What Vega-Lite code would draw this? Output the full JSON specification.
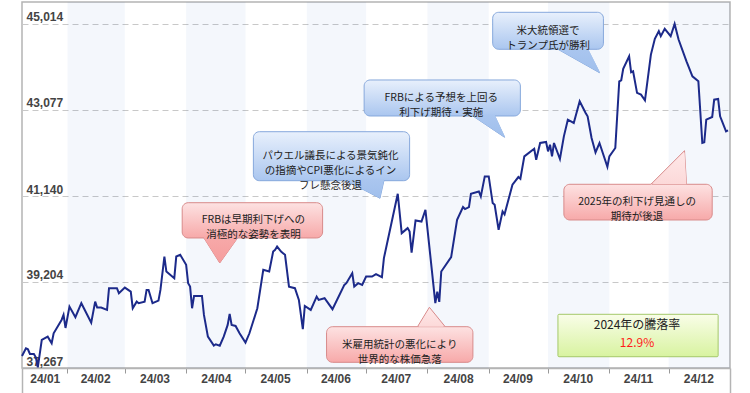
{
  "$schema": "https://vega.github.io/schema/vega-lite/v6.json",
  "width": 708,
  "height": 366,
  "autosize": {"type": "none"},
  "padding": {"left": 22, "top": 2, "right": 20, "bottom": 25},
  "background": "white",
  "view": {"stroke": "#b4b4b4", "strokeWidth": 1.5},
  "config": {"font": "Liberation Sans"},
  "resolve": {"axis": {"x": "independent"}},
  "datasets": {
    "bands": [
      {"start": "2024-02-01", "end": "2024-03-01"},
      {"start": "2024-04-01", "end": "2024-05-01"},
      {"start": "2024-06-01", "end": "2024-07-01"},
      {"start": "2024-08-01", "end": "2024-09-01"},
      {"start": "2024-10-01", "end": "2024-11-01"},
      {"start": "2024-12-01", "end": "2025-01-01"}
    ],
    "prices": [
      {"d": "2024-01-09", "v": 37538}, {"d": "2024-01-11", "v": 37711}, {"d": "2024-01-12", "v": 37689},
      {"d": "2024-01-13", "v": 37583}, {"d": "2024-01-15", "v": 37583}, {"d": "2024-01-16", "v": 37508},
      {"d": "2024-01-17", "v": 37280}, {"d": "2024-01-19", "v": 37898}, {"d": "2024-01-22", "v": 37973},
      {"d": "2024-01-24", "v": 37824}, {"d": "2024-01-25", "v": 38049}, {"d": "2024-01-29", "v": 38349},
      {"d": "2024-01-30", "v": 38462}, {"d": "2024-01-31", "v": 38169}, {"d": "2024-02-02", "v": 38649},
      {"d": "2024-02-05", "v": 38410}, {"d": "2024-02-08", "v": 38726}, {"d": "2024-02-13", "v": 38288},
      {"d": "2024-02-15", "v": 38762}, {"d": "2024-02-16", "v": 38627}, {"d": "2024-02-18", "v": 38627},
      {"d": "2024-02-21", "v": 38575}, {"d": "2024-02-22", "v": 39064}, {"d": "2024-02-26", "v": 39064},
      {"d": "2024-02-27", "v": 38951}, {"d": "2024-03-01", "v": 39078}, {"d": "2024-03-04", "v": 38988},
      {"d": "2024-03-05", "v": 38613}, {"d": "2024-03-07", "v": 38762}, {"d": "2024-03-08", "v": 38726},
      {"d": "2024-03-11", "v": 38762}, {"d": "2024-03-12", "v": 39026}, {"d": "2024-03-13", "v": 39026},
      {"d": "2024-03-15", "v": 38726}, {"d": "2024-03-18", "v": 38785}, {"d": "2024-03-19", "v": 39026},
      {"d": "2024-03-21", "v": 39777}, {"d": "2024-03-22", "v": 39439}, {"d": "2024-03-26", "v": 39290},
      {"d": "2024-03-27", "v": 39777}, {"d": "2024-03-29", "v": 39815}, {"d": "2024-04-01", "v": 39590},
      {"d": "2024-04-02", "v": 39177}, {"d": "2024-04-03", "v": 39100}, {"d": "2024-04-04", "v": 38613},
      {"d": "2024-04-05", "v": 38891}, {"d": "2024-04-09", "v": 38891}, {"d": "2024-04-10", "v": 38462},
      {"d": "2024-04-12", "v": 37973}, {"d": "2024-04-15", "v": 37770}, {"d": "2024-04-16", "v": 37801},
      {"d": "2024-04-18", "v": 37770}, {"d": "2024-04-20", "v": 37973}, {"d": "2024-04-22", "v": 38237},
      {"d": "2024-04-23", "v": 38485}, {"d": "2024-04-24", "v": 38237}, {"d": "2024-04-26", "v": 38214},
      {"d": "2024-04-28", "v": 38049}, {"d": "2024-05-01", "v": 37838}, {"d": "2024-05-03", "v": 38049},
      {"d": "2024-05-07", "v": 38613}, {"d": "2024-05-10", "v": 39477}, {"d": "2024-05-13", "v": 39439},
      {"d": "2024-05-15", "v": 39890}, {"d": "2024-05-16", "v": 39928}, {"d": "2024-05-17", "v": 40002},
      {"d": "2024-05-19", "v": 39890}, {"d": "2024-05-20", "v": 39853}, {"d": "2024-05-21", "v": 39815},
      {"d": "2024-05-23", "v": 39100}, {"d": "2024-05-26", "v": 39064}, {"d": "2024-05-28", "v": 38800},
      {"d": "2024-05-30", "v": 38140}, {"d": "2024-05-31", "v": 38665}, {"d": "2024-06-03", "v": 38575},
      {"d": "2024-06-06", "v": 38875}, {"d": "2024-06-07", "v": 38800}, {"d": "2024-06-10", "v": 38839},
      {"d": "2024-06-14", "v": 38591}, {"d": "2024-06-20", "v": 39139}, {"d": "2024-06-21", "v": 39177},
      {"d": "2024-06-24", "v": 39402}, {"d": "2024-06-25", "v": 39100}, {"d": "2024-06-27", "v": 39177},
      {"d": "2024-06-29", "v": 39139}, {"d": "2024-07-01", "v": 39326}, {"d": "2024-07-04", "v": 39326},
      {"d": "2024-07-06", "v": 39380}, {"d": "2024-07-09", "v": 39312}, {"d": "2024-07-10", "v": 39741},
      {"d": "2024-07-17", "v": 41191}, {"d": "2024-07-19", "v": 40304}, {"d": "2024-07-22", "v": 40417},
      {"d": "2024-07-23", "v": 40340}, {"d": "2024-07-24", "v": 39867}, {"d": "2024-07-26", "v": 40589},
      {"d": "2024-07-29", "v": 40566}, {"d": "2024-07-31", "v": 40830}, {"d": "2024-08-05", "v": 38729},
      {"d": "2024-08-06", "v": 38988}, {"d": "2024-08-07", "v": 38755}, {"d": "2024-08-08", "v": 39439},
      {"d": "2024-08-13", "v": 39763}, {"d": "2024-08-16", "v": 40604}, {"d": "2024-08-19", "v": 40891},
      {"d": "2024-08-20", "v": 40846}, {"d": "2024-08-22", "v": 40891}, {"d": "2024-08-23", "v": 41191},
      {"d": "2024-08-27", "v": 41243}, {"d": "2024-08-28", "v": 41130}, {"d": "2024-08-30", "v": 41581},
      {"d": "2024-09-01", "v": 41581}, {"d": "2024-09-03", "v": 40981}, {"d": "2024-09-04", "v": 40943},
      {"d": "2024-09-06", "v": 40379}, {"d": "2024-09-08", "v": 40792}, {"d": "2024-09-09", "v": 40727},
      {"d": "2024-09-13", "v": 41394}, {"d": "2024-09-16", "v": 41567}, {"d": "2024-09-17", "v": 41529},
      {"d": "2024-09-19", "v": 42032}, {"d": "2024-09-24", "v": 42205}, {"d": "2024-09-25", "v": 41957},
      {"d": "2024-09-27", "v": 42334}, {"d": "2024-09-30", "v": 42357}, {"d": "2024-10-01", "v": 42145},
      {"d": "2024-10-02", "v": 42296}, {"d": "2024-10-03", "v": 42032}, {"d": "2024-10-04", "v": 42334},
      {"d": "2024-10-07", "v": 41973}, {"d": "2024-10-09", "v": 42483}, {"d": "2024-10-11", "v": 42859},
      {"d": "2024-10-14", "v": 42785}, {"d": "2024-10-17", "v": 43272}, {"d": "2024-10-20", "v": 43010},
      {"d": "2024-10-21", "v": 42934}, {"d": "2024-10-23", "v": 42447}, {"d": "2024-10-25", "v": 42122},
      {"d": "2024-10-27", "v": 42334}, {"d": "2024-10-31", "v": 41800}, {"d": "2024-11-01", "v": 42032},
      {"d": "2024-11-04", "v": 42221}, {"d": "2024-11-06", "v": 43723}, {"d": "2024-11-07", "v": 43746},
      {"d": "2024-11-08", "v": 44003}, {"d": "2024-11-11", "v": 44287}, {"d": "2024-11-12", "v": 43926},
      {"d": "2024-11-13", "v": 43949}, {"d": "2024-11-15", "v": 43462}, {"d": "2024-11-17", "v": 43423},
      {"d": "2024-11-19", "v": 43295}, {"d": "2024-11-22", "v": 44325}, {"d": "2024-11-24", "v": 44679},
      {"d": "2024-11-26", "v": 44851}, {"d": "2024-11-27", "v": 44738}, {"d": "2024-11-29", "v": 44905},
      {"d": "2024-12-02", "v": 44738}, {"d": "2024-12-04", "v": 45014}, {"d": "2024-12-06", "v": 44663},
      {"d": "2024-12-10", "v": 44174}, {"d": "2024-12-13", "v": 43836}, {"d": "2024-12-16", "v": 43723},
      {"d": "2024-12-18", "v": 42334}, {"d": "2024-12-19", "v": 42348}, {"d": "2024-12-20", "v": 42859},
      {"d": "2024-12-23", "v": 42920}, {"d": "2024-12-24", "v": 43310}, {"d": "2024-12-26", "v": 43326},
      {"d": "2024-12-27", "v": 42934}, {"d": "2024-12-30", "v": 42595}, {"d": "2024-12-31", "v": 42618}
    ],
    "boxes": [
      {"cid": 1, "col": "red", "x1": "2024-03-30", "x2": "2024-06-09", "v1": 40989, "v2": 40195},
      {"cid": 2, "col": "blue", "x1": "2024-05-05", "x2": "2024-07-23", "v1": 42588, "v2": 41485},
      {"cid": 3, "col": "blue", "x1": "2024-06-30", "x2": "2024-09-17", "v1": 43753, "v2": 42942},
      {"cid": 4, "col": "blue", "x1": "2024-09-03", "x2": "2024-10-29", "v1": 45277, "v2": 44444},
      {"cid": 5, "col": "red", "x1": "2024-10-09", "x2": "2024-12-23", "v1": 41404, "v2": 40600},
      {"cid": 6, "col": "red", "x1": "2024-06-11", "x2": "2024-08-24", "v1": 38197, "v2": 37395},
      {"cid": 7, "col": "green", "x1": "2024-10-06", "x2": "2024-12-26", "v1": 38476, "v2": 37521}
    ],
    "pointers": [
      {"cid": 1, "g": "rd", "x": "2024-04-10", "top": 40195, "bot": 40195},
      {"cid": 1, "g": "rd", "x": "2024-04-18", "top": 40195, "bot": 39632},
      {"cid": 1, "g": "rd", "x": "2024-04-27", "top": 40195, "bot": 40195},
      {"cid": 2, "g": "bd", "x": "2024-06-21", "top": 41485, "bot": 41485},
      {"cid": 2, "g": "bd", "x": "2024-07-08", "top": 41485, "bot": 41089},
      {"cid": 2, "g": "bd", "x": "2024-07-10", "top": 41485, "bot": 41485},
      {"cid": 3, "g": "bd", "x": "2024-08-24", "top": 42942, "bot": 42942},
      {"cid": 3, "g": "bd", "x": "2024-09-04", "top": 42942, "bot": 42612},
      {"cid": 3, "g": "bd", "x": "2024-09-09", "top": 42462, "bot": 42462},
      {"cid": 4, "g": "bd", "x": "2024-10-06", "top": 44444, "bot": 44444},
      {"cid": 4, "g": "bd", "x": "2024-10-21", "top": 44444, "bot": 44068},
      {"cid": 4, "g": "bd", "x": "2024-10-27", "top": 43917, "bot": 43917},
      {"cid": 5, "g": "ru", "x": "2024-11-22", "top": 41404, "bot": 41404},
      {"cid": 5, "g": "ru", "x": "2024-12-09", "top": 42160, "bot": 41404},
      {"cid": 5, "g": "ru", "x": "2024-12-10", "top": 41404, "bot": 41404},
      {"cid": 6, "g": "ru", "x": "2024-07-27", "top": 38197, "bot": 38197},
      {"cid": 6, "g": "ru", "x": "2024-08-02", "top": 38634, "bot": 38197},
      {"cid": 6, "g": "ru", "x": "2024-08-10", "top": 38197, "bot": 38197}
    ],
    "notes": [
      {"cid": 1, "x": "2024-05-05", "v": 40592, "txt": "FRBは早期利下げへの\n消極的な姿勢を表明"},
      {"cid": 2, "x": "2024-06-13", "v": 42037, "txt": "パウエル議長による景気鈍化\nの指摘やCPI悪化によるイン\nフレ懸念後退"},
      {"cid": 3, "x": "2024-08-08", "v": 43347, "txt": "FRBによる予想を上回る\n利下げ期待・実施"},
      {"cid": 4, "x": "2024-10-01", "v": 44861, "txt": "米大統領選で\nトランプ氏が勝利"},
      {"cid": 5, "x": "2024-11-15", "v": 41002, "txt": "2025年の利下げ見通しの\n期待が後退"},
      {"cid": 6, "x": "2024-07-18", "v": 37796, "txt": "米雇用統計の悪化により\n世界的な株価急落"}
    ],
    "perf": [
      {"kind": "title", "x": "2024-11-15", "v": 38230, "txt": "2024年の騰落率"},
      {"kind": "pct", "x": "2024-11-15", "v": 37820, "txt": "12.9%"}
    ]
  },
  "layer": [
    {
      "data": {"name": "bands"},
      "mark": {"type": "rect", "fill": "#2669cd", "opacity": 0.05},
      "encoding": {
        "x": {
          "field": "start", "type": "temporal",
          "scale": {"type": "utc", "domain": [{"year": 2024, "month": 1, "date": 9, "utc": true}, {"year": 2025, "month": 1, "date": 1, "utc": true}]},
          "axis": {
            "orient": "bottom", "title": null, "labels": false, "grid": false,
            "ticks": true, "tickSize": 5, "tickColor": "#999999", "tickWidth": 1,
            "domain": true, "domainColor": "#b4b4b4", "domainWidth": 1.5,
            "values": [
              {"year": 2024, "month": 2, "date": 1, "utc": true}, {"year": 2024, "month": 3, "date": 1, "utc": true},
              {"year": 2024, "month": 4, "date": 1, "utc": true}, {"year": 2024, "month": 5, "date": 1, "utc": true},
              {"year": 2024, "month": 6, "date": 1, "utc": true}, {"year": 2024, "month": 7, "date": 1, "utc": true},
              {"year": 2024, "month": 8, "date": 1, "utc": true}, {"year": 2024, "month": 9, "date": 1, "utc": true},
              {"year": 2024, "month": 10, "date": 1, "utc": true}, {"year": 2024, "month": 11, "date": 1, "utc": true},
              {"year": 2024, "month": 12, "date": 1, "utc": true}
            ]
          }
        },
        "x2": {"field": "end"}
      }
    },
    {
      "data": {"name": "prices"},
      "mark": {"type": "line", "color": "#1c2a8a", "strokeWidth": 2},
      "encoding": {
        "x": {
          "field": "d", "type": "temporal",
          "axis": {
            "orient": "bottom", "title": null, "ticks": false, "domain": false, "grid": false,
            "labelExpr": "utcFormat(datum.value, '%y/%m')", "labelPadding": 5,
            "labelFont": "Liberation Sans", "labelFontSize": 12, "labelFontWeight": "bold", "labelColor": "#444444",
            "labelOverlap": false, "labelFlush": false, "labelBound": false,
            "values": [
              {"year": 2024, "month": 1, "date": 20, "hours": 12, "utc": true}, {"year": 2024, "month": 2, "date": 15, "utc": true},
              {"year": 2024, "month": 3, "date": 16, "utc": true}, {"year": 2024, "month": 4, "date": 16, "utc": true},
              {"year": 2024, "month": 5, "date": 16, "utc": true}, {"year": 2024, "month": 6, "date": 15, "hours": 12, "utc": true},
              {"year": 2024, "month": 7, "date": 16, "utc": true}, {"year": 2024, "month": 8, "date": 16, "hours": 12, "utc": true},
              {"year": 2024, "month": 9, "date": 15, "hours": 12, "utc": true}, {"year": 2024, "month": 10, "date": 16, "utc": true},
              {"year": 2024, "month": 11, "date": 15, "hours": 12, "utc": true}, {"year": 2024, "month": 12, "date": 16, "utc": true}
            ]
          }
        },
        "y": {
          "field": "v", "type": "quantitative",
          "scale": {"domain": [37267, 45509], "nice": false, "zero": false},
          "axis": {
            "orient": "left", "title": null, "values": [37267, 39204, 41140, 43077, 45014], "format": ",d",
            "domain": false, "ticks": false, "grid": true, "gridColor": "#c8c8c8", "gridDash": [6, 4], "gridWidth": 1,
            "labelAlign": "left", "labelBaseline": "alphabetic", "labelPadding": -4, "labelOffset": -3,
            "labelFont": "Liberation Sans", "labelFontSize": 12, "labelFontWeight": "bold", "labelColor": "#444444",
            "labelOverlap": false, "labelFlush": false, "labelBound": false
          }
        }
      }
    },
    {
      "data": {"name": "pointers"},
      "transform": [{"filter": "datum.g == 'bd'"}],
      "mark": {"type": "area", "stroke": "#86a8dc", "strokeWidth": 1,
        "fill": {"gradient": "linear", "x1": 0, "y1": 0, "x2": 0, "y2": 1, "stops": [{"offset": 0, "color": "#aac6ef"}, {"offset": 1, "color": "#a0bfec"}]}},
      "encoding": {
        "x": {"field": "x", "type": "temporal", "axis": null},
        "y": {"field": "top", "type": "quantitative"},
        "y2": {"field": "bot"},
        "detail": {"field": "cid"}
      }
    },
    {
      "data": {"name": "pointers"},
      "transform": [{"filter": "datum.g == 'rd'"}],
      "mark": {"type": "area", "stroke": "#d88a8a", "strokeWidth": 1,
        "fill": {"gradient": "linear", "x1": 0, "y1": 0, "x2": 0, "y2": 1, "stops": [{"offset": 0, "color": "#f7a9a9"}, {"offset": 1, "color": "#f59d9d"}]}},
      "encoding": {
        "x": {"field": "x", "type": "temporal", "axis": null},
        "y": {"field": "top", "type": "quantitative"},
        "y2": {"field": "bot"},
        "detail": {"field": "cid"}
      }
    },
    {
      "data": {"name": "pointers"},
      "transform": [{"filter": "datum.g == 'ru'"}],
      "mark": {"type": "area", "stroke": "#d88a8a", "strokeWidth": 1,
        "fill": {"gradient": "linear", "x1": 0, "y1": 0, "x2": 0, "y2": 1, "stops": [{"offset": 0, "color": "#fee8e8"}, {"offset": 1, "color": "#fcd8d8"}]}},
      "encoding": {
        "x": {"field": "x", "type": "temporal", "axis": null},
        "y": {"field": "top", "type": "quantitative"},
        "y2": {"field": "bot"},
        "detail": {"field": "cid"}
      }
    },
    {
      "data": {"name": "boxes"},
      "transform": [{"filter": "datum.col == 'blue'"}],
      "mark": {"type": "rect", "cornerRadius": 6, "stroke": "#86a8dc", "strokeWidth": 1,
        "fill": {"gradient": "linear", "x1": 0, "y1": 0, "x2": 0, "y2": 1, "stops": [{"offset": 0, "color": "#e8f0fc"}, {"offset": 1, "color": "#aac6ef"}]}},
      "encoding": {
        "x": {"field": "x1", "type": "temporal", "axis": null},
        "x2": {"field": "x2"},
        "y": {"field": "v1", "type": "quantitative"},
        "y2": {"field": "v2"}
      }
    },
    {
      "data": {"name": "boxes"},
      "transform": [{"filter": "datum.col == 'red'"}],
      "mark": {"type": "rect", "cornerRadius": 6, "stroke": "#d88a8a", "strokeWidth": 1,
        "fill": {"gradient": "linear", "x1": 0, "y1": 0, "x2": 0, "y2": 1, "stops": [{"offset": 0, "color": "#fde2e2"}, {"offset": 1, "color": "#f7a9a9"}]}},
      "encoding": {
        "x": {"field": "x1", "type": "temporal", "axis": null},
        "x2": {"field": "x2"},
        "y": {"field": "v1", "type": "quantitative"},
        "y2": {"field": "v2"}
      }
    },
    {
      "data": {"name": "boxes"},
      "transform": [{"filter": "datum.col == 'green'"}],
      "mark": {"type": "rect", "cornerRadius": 1, "stroke": "#a4c86a", "strokeWidth": 1,
        "fill": {"gradient": "linear", "x1": 0, "y1": 0, "x2": 0, "y2": 1, "stops": [{"offset": 0, "color": "#f9fde8"}, {"offset": 1, "color": "#d8f3a0"}]}},
      "encoding": {
        "x": {"field": "x1", "type": "temporal", "axis": null},
        "x2": {"field": "x2"},
        "y": {"field": "v1", "type": "quantitative"},
        "y2": {"field": "v2"}
      }
    },
    {
      "data": {"name": "pointers"},
      "transform": [{"filter": "datum.g == 'bd'"}],
      "mark": {"type": "area", "yOffset": -1.5,
        "fill": {"gradient": "linear", "x1": 0, "y1": 0, "x2": 0, "y2": 1, "stops": [{"offset": 0, "color": "#aac6ef"}, {"offset": 1, "color": "#a0bfec"}]}},
      "encoding": {
        "x": {"field": "x", "type": "temporal", "axis": null},
        "y": {"field": "top", "type": "quantitative"},
        "y2": {"field": "bot"},
        "detail": {"field": "cid"}
      }
    },
    {
      "data": {"name": "pointers"},
      "transform": [{"filter": "datum.g == 'rd'"}],
      "mark": {"type": "area", "yOffset": -1.5,
        "fill": {"gradient": "linear", "x1": 0, "y1": 0, "x2": 0, "y2": 1, "stops": [{"offset": 0, "color": "#f7a9a9"}, {"offset": 1, "color": "#f59d9d"}]}},
      "encoding": {
        "x": {"field": "x", "type": "temporal", "axis": null},
        "y": {"field": "top", "type": "quantitative"},
        "y2": {"field": "bot"},
        "detail": {"field": "cid"}
      }
    },
    {
      "data": {"name": "pointers"},
      "transform": [{"filter": "datum.g == 'ru'"}],
      "mark": {"type": "area", "yOffset": 1.5,
        "fill": {"gradient": "linear", "x1": 0, "y1": 0, "x2": 0, "y2": 1, "stops": [{"offset": 0, "color": "#fee8e8"}, {"offset": 1, "color": "#fcd8d8"}]}},
      "encoding": {
        "x": {"field": "x", "type": "temporal", "axis": null},
        "y": {"field": "top", "type": "quantitative"},
        "y2": {"field": "bot"},
        "detail": {"field": "cid"}
      }
    },
    {
      "data": {"name": "notes"},
      "mark": {"type": "text", "font": "Noto Sans CJK JP", "fontSize": 10.5, "lineBreak": "\n", "lineHeight": 15, "color": "#222222", "align": "center", "baseline": "middle"},
      "encoding": {
        "x": {"field": "x", "type": "temporal", "axis": null},
        "y": {"field": "v", "type": "quantitative"},
        "text": {"field": "txt"}
      }
    },
    {
      "data": {"name": "perf"},
      "mark": {"type": "text", "font": "Noto Sans CJK JP", "fontSize": 12, "align": "center", "baseline": "middle"},
      "encoding": {
        "x": {"field": "x", "type": "temporal", "axis": {
          "orient": "bottom", "title": null, "labels": false, "grid": false, "domain": false,
          "ticks": true, "tickSize": 25, "tickColor": "#b4b4b4", "tickWidth": 1.5,
          "values": [{"year": 2024, "month": 1, "date": 9, "utc": true}, {"year": 2025, "month": 1, "date": 1, "utc": true}]
        }},
        "y": {"field": "v", "type": "quantitative"},
        "text": {"field": "txt"},
        "color": {"condition": {"test": "datum.kind == 'pct'", "value": "#ff1a1a"}, "value": "#222222"}
      }
    }
  ]
}
